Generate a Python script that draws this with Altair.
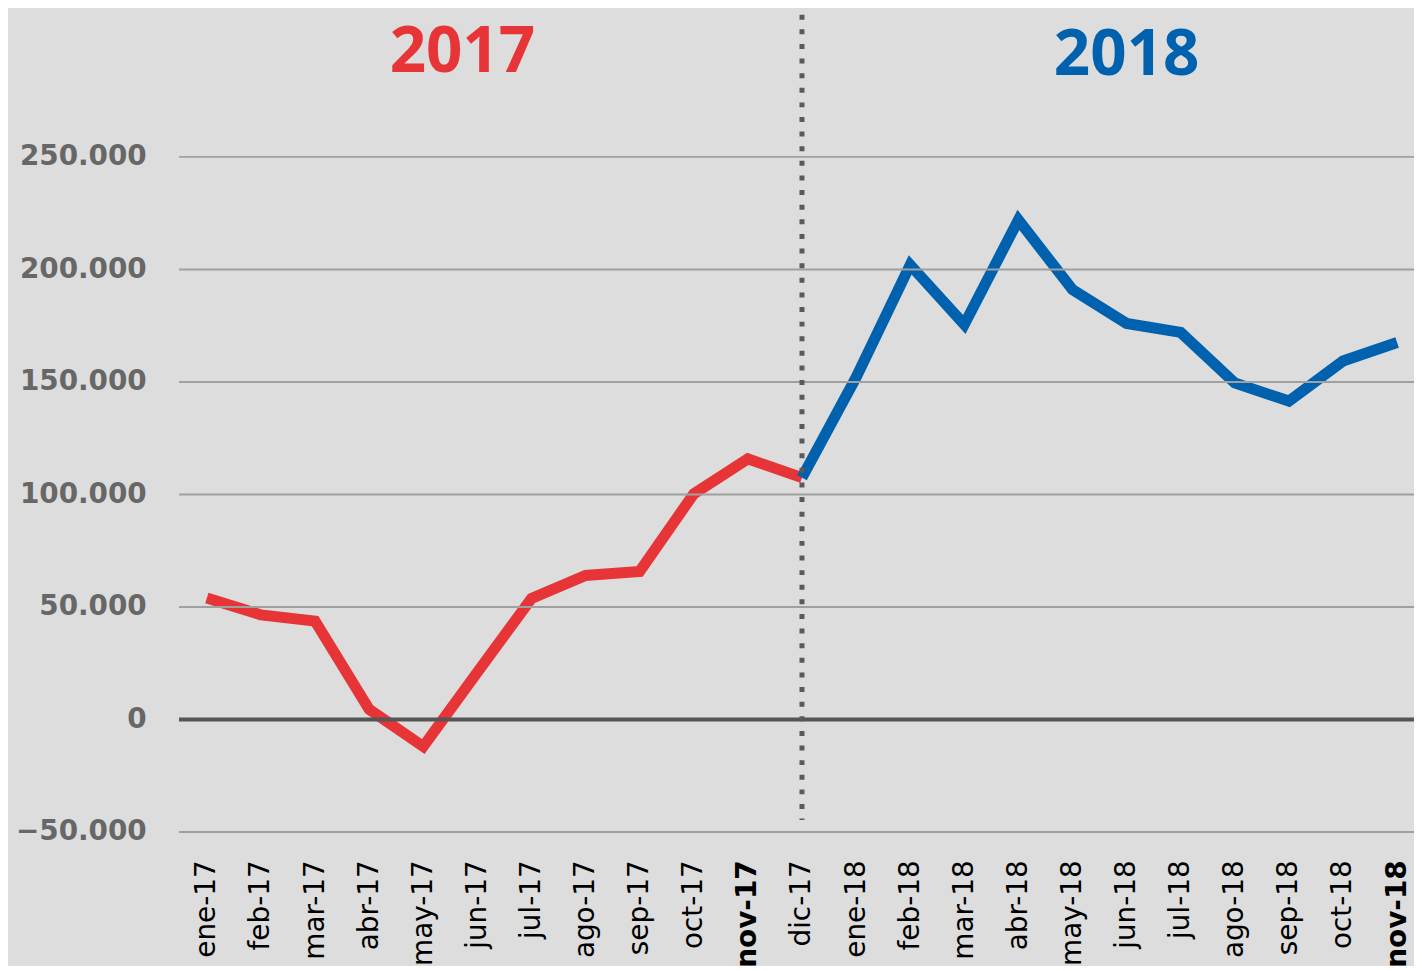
import altair as alt
import pandas as pd

months = ["ene-17", "feb-17", "mar-17", "abr-17", "may-17", "jun-17", "jul-17", "ago-17",
          "sep-17", "oct-17", "nov-17", "dic-17", "ene-18", "feb-18", "mar-18", "abr-18",
          "may-18", "jun-18", "jul-18", "ago-18", "sep-18", "oct-18", "nov-18"]
months_2017 = months[:12]
values_2017 = [54000, 46500, 43700, 4500, -12000, 21000, 53800, 64000, 65800, 100300, 115800, 107500]
months_2018 = months[11:]
values_2018 = [107500, 152000, 202000, 175500, 222000, 191000, 176000, 172000, 149500, 141500, 159300, 167500]

y_ticks = [-50000, 0, 50000, 100000, 150000, 200000, 250000]
titles = ["2017", "2018"]

RED = "#e73437"
BLUE = "#0061ae"
BG = "#dddddd"

df = pd.DataFrame(
    [{"mes": m, "valor": v, "serie": "2017"} for m, v in zip(months_2017, values_2017)]
    + [{"mes": m, "valor": v, "serie": "2018"} for m, v in zip(months_2018, values_2018)]
)

x_scale = alt.Scale(type="point", domain=months, range=[28, 1225], padding=0)
y_scale = alt.Scale(domain=[-50000, 250000], nice=False, zero=False)

x_axis = alt.Axis(
    title=None, labelAngle=-90, ticks=False, domain=False, grid=False,
    labelFont="DejaVu Sans", labelFontSize=28, labelColor="#000000", labelPadding=28,
    labelFontWeight={"condition": {"test": "datum.value == 'nov-17' || datum.value == 'nov-18'",
                                   "value": "bold"}, "value": "normal"},
    labelOverlap=False,
)
y_axis = alt.Axis(
    title=None, values=y_ticks, ticks=False, domain=False, grid=False,
    labelFont="DejaVu Sans", labelFontSize=28, labelFontWeight="bold", labelColor="#676767",
    labelPadding=33,
    labelExpr="replace(format(datum.value, ',d'), ',', '.')",
)

lines = alt.Chart(df).mark_line(strokeWidth=11, strokeJoin="miter").encode(
    x=alt.X("mes:N", scale=x_scale, axis=x_axis, sort=months),
    y=alt.Y("valor:Q", scale=y_scale, axis=y_axis),
    color=alt.Color("serie:N", scale=alt.Scale(domain=titles, range=[RED, BLUE]), legend=None),
)

grid = alt.Chart(pd.DataFrame({"g": y_ticks})).mark_rule(color="#a0a0a0", strokeWidth=2).encode(
    y=alt.Y("g:Q"), x=alt.value(0), x2=alt.value(1260)
)

zero = alt.Chart(pd.DataFrame({"z": [0]})).mark_rule(color="#555555", strokeWidth=4).encode(
    y=alt.Y("z:Q"), x=alt.value(0), x2=alt.value(1260)
)

divider = alt.Chart(pd.DataFrame({"d": ["dic-17"]})).mark_rule(
    color="#5a5a5a", strokeWidth=5, strokeDash=[5, 9.7]
).encode(
    x=alt.X("d:N"), y=alt.value(-143), y2=alt.value(667)
)

title17 = alt.Chart(pd.DataFrame({"t": [titles[0]]})).mark_text(
    font="Open Sans", fontSize=64, fontWeight="bold", color=RED, baseline="alphabetic", align="center"
).encode(text="t:N", x=alt.value(285), y=alt.value(-85))
title18 = alt.Chart(pd.DataFrame({"t": [titles[1]]})).mark_text(
    font="Open Sans", fontSize=64, fontWeight="bold", color=BLUE, baseline="alphabetic", align="center"
).encode(text="t:N", x=alt.value(953), y=alt.value(-82))

chart = alt.layer(lines, grid, zero, divider, title17, title18).properties(
    width=1242, height=679,
    autosize=alt.AutoSizeParams(type="none"),
    padding={"left": 172, "top": 147, "right": 0, "bottom": 132},
    background=BG,
).configure_view(stroke=None, clip=False)

chart.save("out.html", embed_options={"renderer": "svg", "actions": False})
